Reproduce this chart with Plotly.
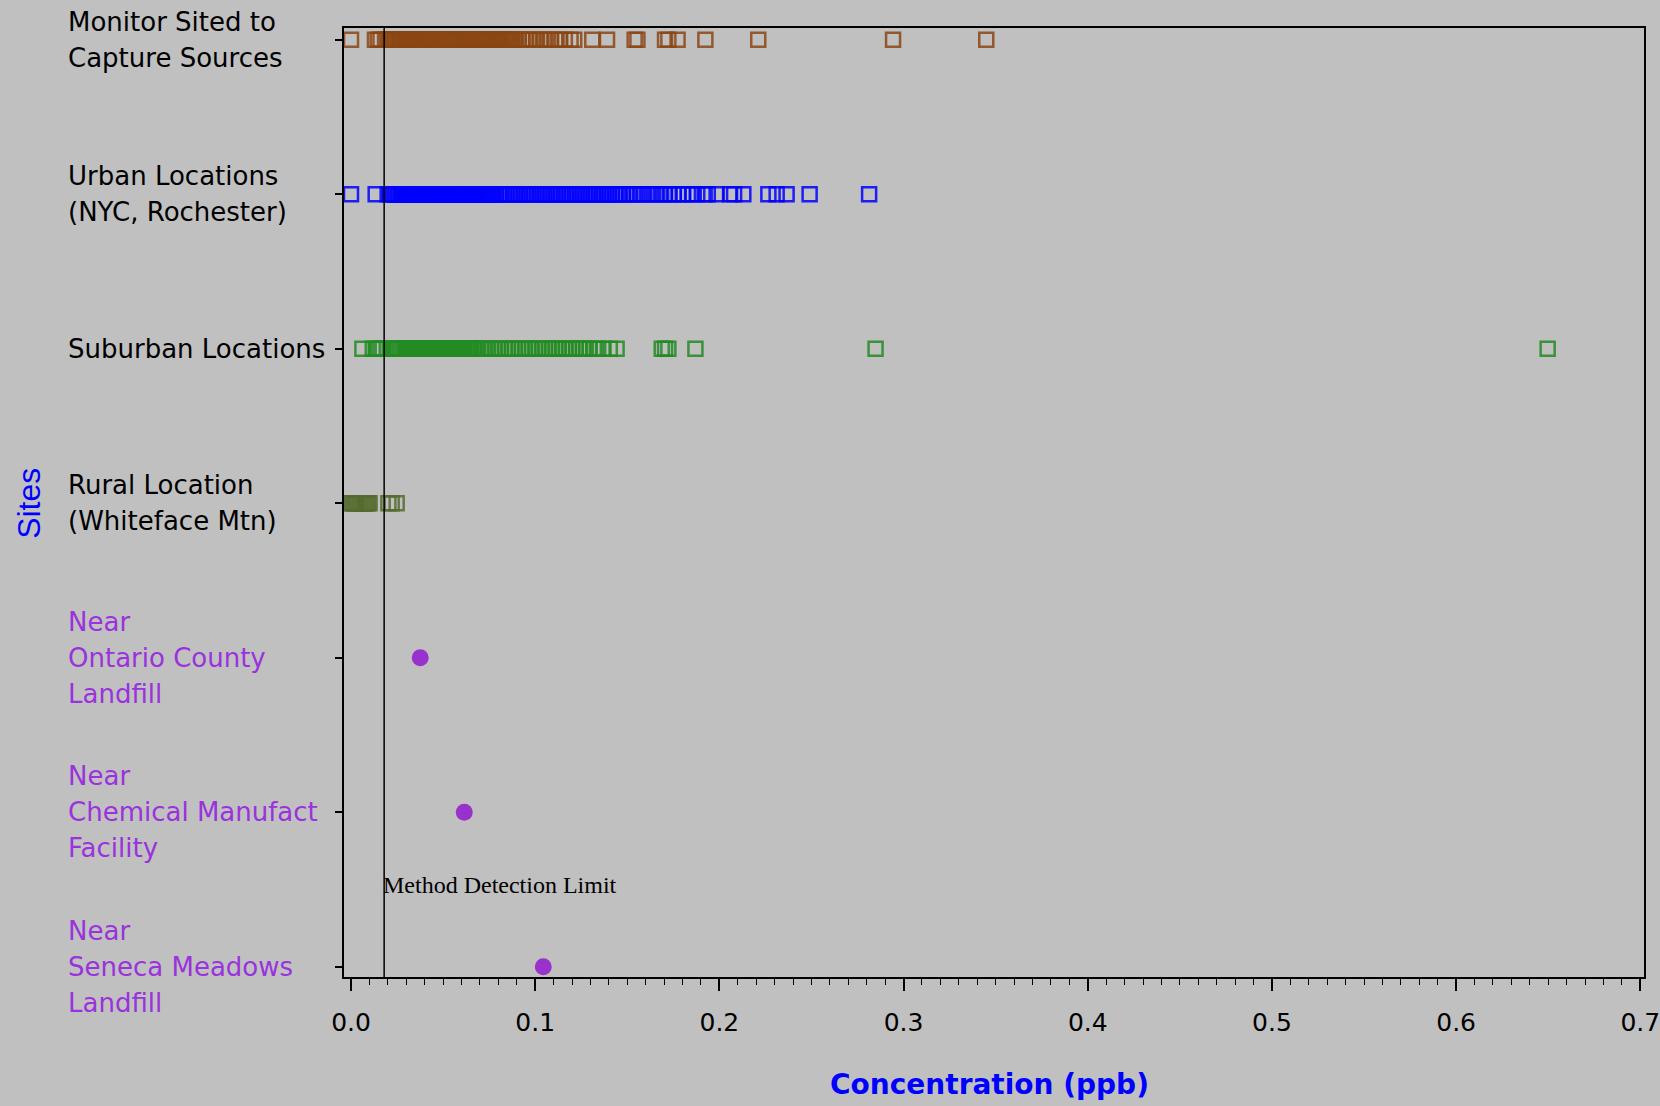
import plotly.graph_objects as go

# ---------------- data ----------------
site_labels = [
    "Monitor Sited to<br>Capture Sources",
    "Urban Locations<br>(NYC, Rochester)",
    "Suburban Locations",
    "Rural Location<br>(Whiteface Mtn)",
    "Near<br>Ontario County<br>Landfill",
    "Near<br>Chemical Manufact<br>Facility",
    "Near<br>Seneca Meadows<br>Landfill",
]
label_colors = ["black", "black", "black", "black", "#9A32DD", "#9A32DD", "#9A32DD"]

x_ticks = [0.0, 0.1, 0.2, 0.3, 0.4, 0.5, 0.6, 0.7]
x_tick_text = ["0.0", "0.1", "0.2", "0.3", "0.4", "0.5", "0.6", "0.7"]

MDL = 0.018  # method detection limit (ppb)

source_vals = [0.000, 0.013, 0.0145, 0.016, 0.0185, 0.0197, 0.0212, 0.0222, 0.0231, 0.0241,
               0.0250, 0.0259, 0.0268, 0.0278, 0.0287, 0.0296, 0.0306, 0.0315, 0.0324, 0.0334,
               0.0343, 0.0352, 0.0362, 0.0371, 0.0380, 0.0390, 0.0399, 0.0408, 0.0418, 0.0427,
               0.0436, 0.0446, 0.0455, 0.0464, 0.0474, 0.0483, 0.0492, 0.0502, 0.0511, 0.0520,
               0.0530, 0.0539, 0.0548, 0.0558, 0.0567, 0.0576, 0.0586, 0.0595, 0.0604, 0.0614,
               0.0623, 0.0632, 0.0642, 0.0651, 0.0660, 0.0670, 0.0679, 0.0688, 0.0698, 0.0707,
               0.0716, 0.0726, 0.0735, 0.0744, 0.0754, 0.0763, 0.0772, 0.0782, 0.0791, 0.0800,
               0.0810, 0.0819, 0.0828, 0.0838, 0.0847, 0.0856, 0.0866, 0.0875, 0.0884, 0.0894,
               0.0912, 0.0931, 0.0947, 0.0968, 0.0985, 0.1006, 0.1028, 0.1047, 0.1069, 0.1086,
               0.1109, 0.1133, 0.1161, 0.1192, 0.1212, 0.131, 0.139, 0.154, 0.1555, 0.1705,
               0.1723, 0.1773, 0.1924, 0.2211, 0.2943, 0.3449]

urban_vals = [0.000, 0.0134, 0.0199, 0.0212, 0.0222, 0.0230, 0.0238, 0.0247, 0.0255, 0.0263,
              0.0271, 0.0280, 0.0288, 0.0296, 0.0304, 0.0313, 0.0321, 0.0329, 0.0337, 0.0346,
              0.0354, 0.0362, 0.0370, 0.0379, 0.0387, 0.0395, 0.0403, 0.0412, 0.0420, 0.0428,
              0.0436, 0.0445, 0.0453, 0.0461, 0.0469, 0.0478, 0.0486, 0.0494, 0.0502, 0.0511,
              0.0519, 0.0527, 0.0535, 0.0544, 0.0552, 0.0560, 0.0568, 0.0577, 0.0585, 0.0593,
              0.0601, 0.0610, 0.0618, 0.0626, 0.0634, 0.0643, 0.0651, 0.0659, 0.0667, 0.0676,
              0.0684, 0.0692, 0.0700, 0.0709, 0.0717, 0.0725, 0.0733, 0.0742, 0.0750, 0.0758,
              0.0766, 0.0775, 0.0789, 0.0804, 0.0818, 0.0833, 0.0847, 0.0862, 0.0878, 0.0891,
              0.0906, 0.0920, 0.0936, 0.0949, 0.0965, 0.0979, 0.0994, 0.1008, 0.1024, 0.1037,
              0.1052, 0.1066, 0.1082, 0.1095, 0.1111, 0.1124, 0.1140, 0.1154, 0.1169, 0.1183,
              0.1198, 0.1213, 0.1227, 0.1242, 0.1256, 0.1271, 0.1286, 0.1300, 0.1315, 0.1329,
              0.1344, 0.1359, 0.1373, 0.1388, 0.1402, 0.1417, 0.1432, 0.1446, 0.1461, 0.1476,
              0.1492, 0.1511, 0.1532, 0.1552, 0.1574, 0.1593, 0.1617, 0.1639, 0.1661, 0.1684,
              0.1705, 0.1730, 0.1752, 0.1779, 0.1801, 0.1829, 0.1852, 0.1880, 0.1920, 0.1937,
              0.1985, 0.2058, 0.2080, 0.2130, 0.2266, 0.2311, 0.2365, 0.2490, 0.2813]

suburban_vals = [0.0062, 0.0118, 0.0134, 0.0148, 0.0160, 0.0172, 0.0222, 0.0231, 0.0241, 0.0250,
                 0.0260, 0.0269, 0.0279, 0.0288, 0.0298, 0.0307, 0.0317, 0.0326, 0.0336, 0.0345,
                 0.0355, 0.0364, 0.0374, 0.0383, 0.0393, 0.0402, 0.0412, 0.0421, 0.0431, 0.0440,
                 0.0450, 0.0459, 0.0469, 0.0478, 0.0488, 0.0497, 0.0507, 0.0516, 0.0526, 0.0535,
                 0.0545, 0.0554, 0.0564, 0.0573, 0.0583, 0.0592, 0.0602, 0.0611, 0.0621, 0.0630,
                 0.0640, 0.0649, 0.0659, 0.0668, 0.0678, 0.0691, 0.0709, 0.0726, 0.0745, 0.0762,
                 0.0781, 0.0799, 0.0816, 0.0836, 0.0853, 0.0872, 0.0889, 0.0909, 0.0927, 0.0945,
                 0.0964, 0.0981, 0.1001, 0.1018, 0.1037, 0.1055, 0.1073, 0.1092, 0.1110, 0.1128,
                 0.1147, 0.1165, 0.1184, 0.1202, 0.1221, 0.1239, 0.1258, 0.1276, 0.1295, 0.1318,
                 0.1342, 0.1371, 0.1405, 0.1442, 0.1687, 0.1705, 0.1723, 0.1870, 0.2848, 0.6497]

rural_vals = [0.000, 0.0008, 0.0016, 0.0025, 0.0033, 0.0041, 0.0050, 0.0058, 0.0067, 0.0075,
              0.0084, 0.0092, 0.0101, 0.0203, 0.0221, 0.0248]

ontario_vals = [0.0376]
chemical_vals = [0.0615]
seneca_vals = [0.1044]

square_series = [
    (source_vals, 0, "#8B4513"),
    (urban_vals, 1, "#0000FF"),
    (suburban_vals, 2, "#228B22"),
    (rural_vals, 3, "#556B2F"),
]
dot_series = [
    (ontario_vals, 4, "#9932CC"),
    (chemical_vals, 5, "#9932CC"),
    (seneca_vals, 6, "#9932CC"),
]

# ---------------- figure ----------------
fig = go.Figure()

for vals, idx, col in square_series:
    fig.add_trace(go.Scatter(
        x=vals, y=[idx] * len(vals), mode="markers",
        marker=dict(symbol="square-open", size=14, color=col, opacity=0.85,
                    line=dict(width=2.5, color=col)),
        showlegend=False, hoverinfo="x"))

for vals, idx, col in dot_series:
    fig.add_trace(go.Scatter(
        x=vals, y=[idx] * len(vals), mode="markers",
        marker=dict(symbol="circle", size=17, color=col, line=dict(width=0)),
        showlegend=False, hoverinfo="x"))

# method detection limit line + label
fig.add_shape(type="line", xref="x", yref="paper", x0=MDL, x1=MDL, y0=0, y1=1,
              line=dict(color="black", width=1.5))
fig.add_annotation(x=MDL, y=5.47, xref="x", yref="y", text="Method Detection Limit",
                   showarrow=False, xanchor="left", yanchor="middle", xshift=-3,
                   font=dict(family="Liberation Serif", size=24, color="black"))

# site labels (one annotation per text line for exact line spacing)
LINE_GAP = 36
for i, (lab, col) in enumerate(zip(site_labels, label_colors)):
    lines = lab.split("<br>")
    n = len(lines)
    for k, line in enumerate(lines):
        fig.add_annotation(x=-0.2142, y=i, xref="paper", yref="y", text=line,
                           showarrow=False, xanchor="left", yanchor="middle", align="left",
                           yshift=((n - 1) / 2 - k) * LINE_GAP,
                           font=dict(family="DejaVu Sans", size=26, color=col))

# axis titles
fig.add_annotation(x=-0.2418, y=3, xref="paper", yref="y", text="Sites", textangle=-90,
                   showarrow=False, xanchor="center", yanchor="middle",
                   font=dict(family="Liberation Sans", size=32, color="#0000FF"))
fig.add_annotation(x=0.4969, y=-0.1138, xref="paper", yref="paper",
                   text="<b>Concentration (ppb)</b>", showarrow=False,
                   xanchor="center", yanchor="middle",
                   font=dict(family="DejaVu Sans", size=28, color="#0000FF"))

fig.update_layout(
    width=1660, height=1106,
    margin=dict(l=344, r=16, t=28, b=129, pad=0, autoexpand=False),
    paper_bgcolor="#C0C0C0", plot_bgcolor="#C0C0C0",
    xaxis=dict(range=[-0.0038, 0.7020], tickvals=x_ticks, ticktext=x_tick_text,
               ticks="outside", ticklen=12, tickwidth=1.5, tickcolor="black",
               showgrid=False, zeroline=False, showline=True, linecolor="black",
               linewidth=2, mirror=True, ticklabelstandoff=10,
               ticklabeloverflow="allow", automargin=False,
               tickfont=dict(family="DejaVu Sans", size=25, color="black"),
               minor=dict(dtick=0.01, tick0=0, ticks="outside", ticklen=6,
                          tickwidth=1.2, tickcolor="black", showgrid=False)),
    yaxis=dict(range=[6.067, -0.0757], tickvals=list(range(7)),
               ticktext=[""] * 7, ticks="outside", ticklen=7, tickwidth=1.5,
               tickcolor="black", showgrid=False, zeroline=False, showline=True,
               linecolor="black", linewidth=2, mirror=True, automargin=False),
)

fig.write_html("out.html", config={"displayModeBar": False},
               post_script="document.body.style.margin='0px';"
                           "document.body.style.background='#C0C0C0';")
